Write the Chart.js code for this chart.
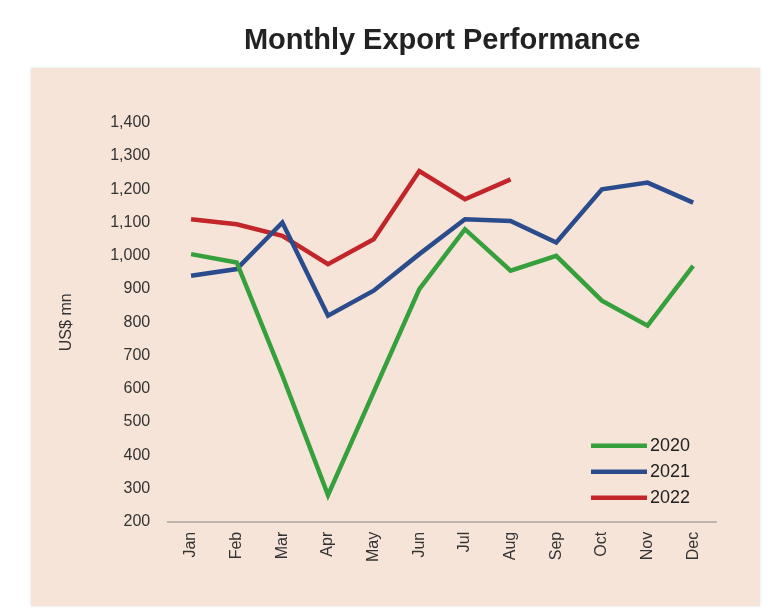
<!DOCTYPE html>
<html>
<head>
<meta charset="utf-8">
<script src="https://cdn.jsdelivr.net/npm/chart.js@4.4.0/dist/chart.umd.min.js"></script>
<style>
    html, body { margin: 0; padding: 0; background: #ffffff; }
    #wrap { position: relative; width: 768px; height: 614px; }
    #panel { position: absolute; left: 31px; top: 68px; width: 729px; height: 538px; background: #f6e4d8; box-shadow: 0 0 3px rgba(0,0,0,0.12); }
    #chart { position: absolute; left: 0; top: 0; }
</style>
</head>
<body>
<div id="wrap">
    <div id="panel"></div>
    <canvas id="chart" width="768" height="614"></canvas>
</div>
<script>
const months = ['Jan', 'Feb', 'Mar', 'Apr', 'May', 'Jun', 'Jul', 'Aug', 'Sep', 'Oct', 'Nov', 'Dec'];
const exports2020 = [1005, 980, 640, 280, 590, 900, 1080, 955, 1000, 865, 790, 970];
const exports2021 = [940, 960, 1100, 820, 895, 1005, 1110, 1105, 1040, 1200, 1220, 1160];
const exports2022 = [1110, 1095, 1060, 975, 1050, 1255, 1170, 1230];
const yearLabels = ['2020', '2021', '2022'];
const yearColors = ['#36a03c', '#2b4c8c', '#c2262b'];

const fontFam = '"Liberation Sans", Arial, sans-serif';

// legend drawn inside the plot, lower right, like the original
const insideLegend = {
    id: 'insideLegend',
    afterDatasetsDraw(chart) {
        const { ctx, chartArea } = chart;
        const x0 = chartArea.right - 125;
        let y = chartArea.bottom - 76;
        ctx.save();
        ctx.font = '18px ' + fontFam;
        ctx.textBaseline = 'middle';
        chart.data.datasets.forEach(ds => {
            ctx.strokeStyle = ds.borderColor;
            ctx.lineWidth = 4.5;
            ctx.beginPath();
            ctx.moveTo(x0, y);
            ctx.lineTo(x0 + 56, y);
            ctx.stroke();
            ctx.fillStyle = '#222';
            ctx.fillText(ds.label, x0 + 59, y);
            y += 26;
        });
        ctx.restore();
    }
};

new Chart(document.getElementById('chart').getContext('2d'), {
    type: 'line',
    data: {
        labels: months,
        datasets: [exports2020, exports2021, exports2022].map((vals, i) => ({
            label: yearLabels[i],
            data: vals,
            borderColor: yearColors[i],
            backgroundColor: yearColors[i],
            borderWidth: 4.5,
            pointRadius: 0,
            tension: 0,
            fill: false
        }))
    },
    options: {
        responsive: false,
        animation: false,
        layout: { padding: { left: 57, right: 52, top: 20, bottom: 42 } },
        plugins: {
            legend: { display: false },
            tooltip: { enabled: false },
            title: {
                display: true,
                text: 'Monthly Export Performance',
                fullSize: false,
                color: '#222',
                font: { family: fontFam, size: 29, weight: 'bold' },
                padding: { top: 4, bottom: 64 }
            }
        },
        scales: {
            x: {
                offset: true,
                grid: { display: false, drawTicks: false },
                border: { display: true, color: '#bdb4ad', width: 2 },
                ticks: {
                    color: '#333',
                    font: { family: fontFam, size: 16 },
                    minRotation: 90,
                    maxRotation: 90,
                    padding: 10
                }
            },
            y: {
                min: 200,
                max: 1400,
                grid: { display: false, drawTicks: false },
                border: { display: false },
                title: {
                    display: true,
                    text: 'US$ mn',
                    color: '#333',
                    font: { family: fontFam, size: 16 },
                    padding: { top: 0, bottom: 16 }
                },
                ticks: {
                    stepSize: 100,
                    color: '#333',
                    font: { family: fontFam, size: 16 },
                    padding: 18,
                    callback: v => v.toLocaleString('en-US')
                }
            }
        }
    },
    plugins: [insideLegend]
});
</script>
</body>
</html>
